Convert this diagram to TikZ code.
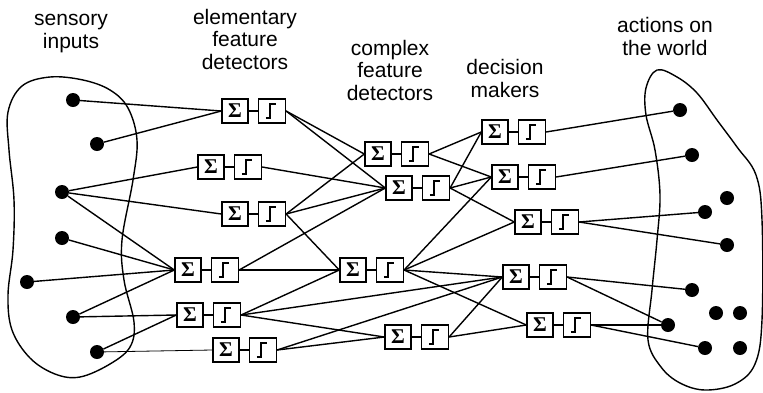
\documentclass[tikz,border=0pt]{standalone}
\usepackage{fontspec}
\setmainfont{Liberation Sans}
\newfontfamily\sigfont{Liberation Serif}
\usetikzlibrary{positioning}

% one unit: summing box followed by a threshold box
\newcommand{\neuron}[3]{%
  \node[sig] (#1s) at (#2,#3) {Σ};
  \node[stp, right=9pt of #1s] (#1t) {};
  \draw[wire] (#1s) -- (#1t);}

\begin{document}
\begin{tikzpicture}[x=1pt, y=-1pt,
  lbl/.style={align=center, inner sep=0pt, anchor=base,
              font=\fontsize{21}{22.5}\selectfont},
  sig/.style={draw, line width=1.4pt, minimum width=26pt, minimum height=24pt,
              inner sep=0pt, font=\sigfont\bfseries\fontsize{21}{21}\selectfont},
  stp/.style={draw, line width=1.4pt, minimum width=27pt, minimum height=24pt,
              inner sep=0pt,
              path picture={\draw[line width=1.3pt]
                ([shift={(-6pt,-7pt)}]path picture bounding box.center)
                -- ++(4pt,0pt) -- ++(0pt,14pt) -- ++(6pt,0pt);}},
  dot/.style={circle, fill, inner sep=0pt, minimum size=14pt},
  wire/.style={line width=1.4pt},
  blob/.style={line width=1.4pt}
]
\useasboundingbox (0,0) rectangle (763,392);

% column titles (anchored at the baseline of the last line)
\node[lbl] (tin) at (71,48) {sensory\\inputs};
\node[lbl] (tel) at (245,69) {elementary\\feature\\detectors};
\node[lbl] (tcx) at (390,100) {complex\\feature\\detectors};
\node[lbl] (tdm) at (505,97) {decision\\makers};
\node[lbl] (tac) at (665,55) {actions on\\the world};

% the two regions
\draw[blob] plot[smooth cycle, tension=0.6] coordinates {
  (50,77) (83,80) (110,90) (128,108) (137,140) (133,180) (122,240)
  (124,280) (134,322) (130,347) (110,364) (80,377) (55,374) (30,358)
  (12,330) (8,295) (13,250) (14,200) (9,150) (8,112) (22,86)};
\draw[blob] plot[smooth cycle, tension=0.6] coordinates {
  (657,70) (677,77) (697,93) (717,120) (737,147) (756,175) (762,220)
  (762,320) (755,364) (735,384) (705,390) (680,383) (661,367) (648,340)
  (652,290) (657,240) (660,195) (655,150) (646,115) (646,88)};

% sensory inputs
\node[dot] (in1) at (73,100) {};
\node[dot] (in2) at (97,144) {};
\node[dot] (in3) at (62,192) {};
\node[dot] (in4) at (62,238) {};
\node[dot] (in5) at (27,282) {};
\node[dot] (in6) at (73,317) {};
\node[dot] (in7) at (97,352) {};

% actions
\node[dot] (act1) at (680,110) {};
\node[dot] (act2) at (692,155) {};
\node[dot] (act3) at (727,198) {};
\node[dot] (act4) at (705,212) {};
\node[dot] (act5) at (727,245) {};
\node[dot] (act6) at (692,290) {};
\node[dot] (act7) at (716,313) {};
\node[dot] (act8) at (740,313) {};
\node[dot] (act9) at (668,325) {};
\node[dot] (act10) at (705,348) {};
\node[dot] (act11) at (740,348) {};

% elementary feature detectors
\neuron{E1}{235}{111}
\neuron{E2}{211}{167}
\neuron{E3}{235}{214}
\neuron{E4}{188}{270}
\neuron{E5}{190}{315}
\neuron{E6}{226}{350}
% complex feature detectors
\neuron{C1}{378}{154}
\neuron{C2}{399}{188}
\neuron{C3}{353}{270}
\neuron{C4}{398}{337}
% decision makers
\neuron{D1}{495}{132}
\neuron{D2}{505}{177}
\neuron{D3}{528}{222}
\neuron{D4}{516}{277}
\neuron{D5}{540}{325}

% wiring
\foreach \a/\b in {in1/E1, in2/E1, in3/E2, in3/E3, in3/E4, in4/E4, in5/E4,
                   in6/E4, in6/E5, in7/E5}
  \draw[wire] (\a) -- (\b s.west);
\draw[line width=0.8pt] (in7) -- (E6s.west);
\foreach \a/\b in {E1/C1, E1/C2, E2/C2, E3/C1, E3/C2, E3/C3, E4/C2, E4/C3,
                   E5/C3, E5/C4, E5/D4, E6/C4, E6/D4,
                   C1/D1, C1/D2, C2/D1, C2/D2, C2/D3, C3/D2, C3/D3, C3/D4,
                   C3/D5, C4/D4, C4/D5}
  \draw[wire] (\a t.east) -- (\b s.west);
\foreach \a/\b in {D1/act1, D2/act2, D3/act4, D3/act5, D4/act6, D4/act9,
                   D5/act9, D5/act10}
  \draw[wire] (\a t.east) -- (\b);
\end{tikzpicture}
\end{document}
